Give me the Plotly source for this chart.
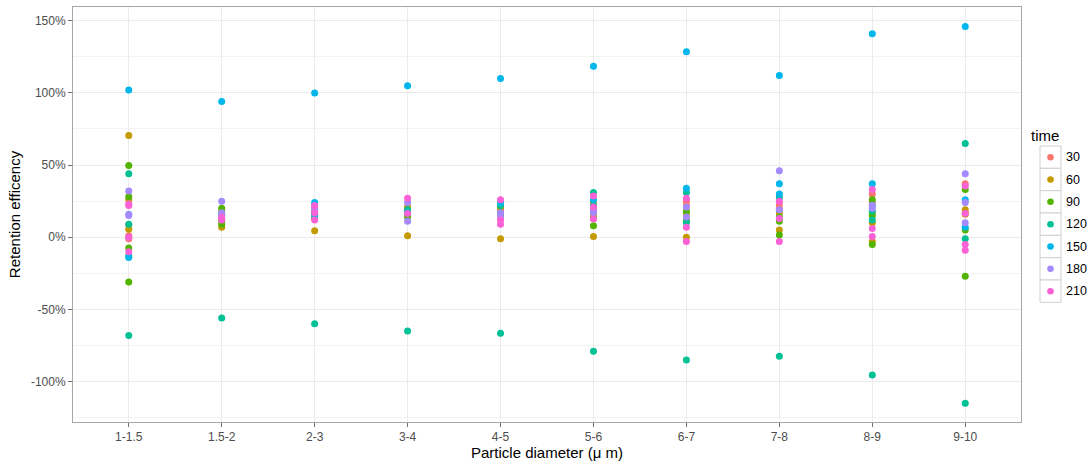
import plotly.graph_objects as go

# Particle size classes (x categories)
sizes = ["1-1.5", "1.5-2", "2-3", "3-4", "4-5", "5-6", "6-7", "7-8", "8-9", "9-10"]

# Sampling times (minutes) and their colours (ggplot hue palette)
times = [30, 60, 90, 120, 150, 180, 210]
colors = ["#F8766D", "#C49A00", "#53B400", "#00C094", "#00B6EB", "#A58AFF", "#FB61D7"]

# Retention efficiency (%) per size class, one list per sampling time
t30 = [[8.5, 1, -1], [13], [20, 16], [18, 20], [19, 16], [20, 16], [25, 22], [23, 20], [30, 24], [37, 17]]
t60 = [[70.5, 5.5, 26], [7, 18], [4.5, 14], [1, 21], [-1, 21], [0.5, 24, 15], [0, 16], [5, 17], [10, -3, 17], [19, 16]]
t90 = [[49.7, 28, -7.5, -31], [20, 9, 11], [13, 17], [14, 16], [17, 13], [8, 18, 13], [18, 12], [14, 11, 1.6], [26, 15, -5], [33, 5, -27]]
t120 = [[44, 9, -13, -68], [-56, 16], [-60, 22], [-65, 19], [-66.5, 22], [-79, 31, 22], [-85, 31, 10], [-82.5, 27.5], [-95.5, 18, 12], [65, -1, -115]]
t150 = [[102, -14], [94, 15], [100, 24, 15], [105, 17], [110, 24], [118.5, 26], [128.5, 34], [112, 37, 30], [141, 37, 22], [146, 26, 7]]
t180 = [[32, 16, 15], [25, 17], [19, 21], [24, 11], [17, 14], [19, 17], [21, 14], [46, 19], [22, 20], [44, 24, 10]]
t210 = [[23, 22, 0, -10], [14, 12], [22, 12, 17], [27, 16.5], [26, 9, 12], [28.6, 21, 12.6], [27, 7, -3], [25, 13, -3], [33, 6, 0.5], [35.5, 16.5, -5, -9]]

series = [t30, t60, t90, t120, t150, t180, t210]

# Y axis ticks
y_tickvals = [150, 100, 50, 0, -50, -100]
y_ticktext = ["150%", "100%", "50%", "0%", "-50%", "-100%"]

W, H = 1090, 465
ML, MR, MT, MB = 73, 69, 6, 41

fig = go.Figure()

for t, col, data in zip(times, colors, series):
    xs, ys = [], []
    for cat, vals in zip(sizes, data):
        for v in vals:
            xs.append(cat)
            ys.append(v)
    fig.add_trace(go.Scatter(
        x=xs, y=ys, mode="markers", name=str(t),
        marker=dict(color=col, size=7, line=dict(width=0)),
        showlegend=False,
    ))

grid = "#EBEBEB"
fig.update_layout(
    width=W, height=H,
    margin=dict(l=ML, r=MR, t=MT, b=MB),
    paper_bgcolor="white", plot_bgcolor="white",
    font=dict(family="Liberation Sans, Arial, sans-serif", color="#4D4D4D", size=12),
    xaxis=dict(
        type="category", categoryorder="array", categoryarray=sizes,
        range=[-0.6, len(sizes) - 0.4],
        showgrid=True, gridcolor=grid, gridwidth=1,
        zeroline=False, showline=True, linecolor="#A6A6A6", linewidth=1, mirror=True,
        ticks="outside", ticklen=4, tickcolor="#6E6E6E",
        tickfont=dict(size=12, color="#4D4D4D"),
        title=dict(text="Particle diameter (μ m)", font=dict(size=15, color="#000000"), standoff=4),
    ),
    yaxis=dict(
        range=[-128, 159.5],
        tickvals=y_tickvals, ticktext=y_ticktext,
        showgrid=True, gridcolor=grid, gridwidth=1,
        minor=dict(dtick=25, tick0=25, showgrid=True, gridcolor="#F3F3F3", gridwidth=0.6, ticks=""),
        zeroline=False, showline=True, linecolor="#A6A6A6", linewidth=1, mirror=True,
        ticks="outside", ticklen=4, tickcolor="#6E6E6E",
        tickfont=dict(size=12, color="#4D4D4D"),
        title=dict(text="Retention efficency", font=dict(size=15, color="#000000"), standoff=6),
    ),
)

# Legend drawn as boxed keys, in the ggplot style
pw = W - ML - MR
ph = H - MT - MB


def px(x):
    return (x - ML) / pw


def py(y):
    return (H - MB - y) / ph


fig.add_annotation(
    x=px(1029), y=py(135), xref="paper", yref="paper",
    text="time", showarrow=False, xanchor="left", yanchor="middle",
    font=dict(size=15, color="#000000"),
)
row_h = 22.5
top = 146
for i, (t, col) in enumerate(zip(times, colors)):
    y0 = top + i * row_h
    y1 = y0 + row_h
    fig.add_shape(
        type="rect", xref="paper", yref="paper",
        x0=px(1040), x1=px(1061), y0=py(y1), y1=py(y0),
        line=dict(color="#D0D0D0", width=1), fillcolor="white",
    )
    cx, cy = 1050.5, (y0 + y1) / 2
    fig.add_shape(
        type="circle", xref="paper", yref="paper",
        x0=px(cx - 3.3), x1=px(cx + 3.3), y0=py(cy + 3.3), y1=py(cy - 3.3),
        line=dict(width=0), fillcolor=col,
    )
    fig.add_annotation(
        x=px(1064), y=py(cy), xref="paper", yref="paper",
        text=str(t), showarrow=False, xanchor="left", yanchor="middle",
        font=dict(size=12.5, color="#000000"),
    )

fig.write_html("out.html")
